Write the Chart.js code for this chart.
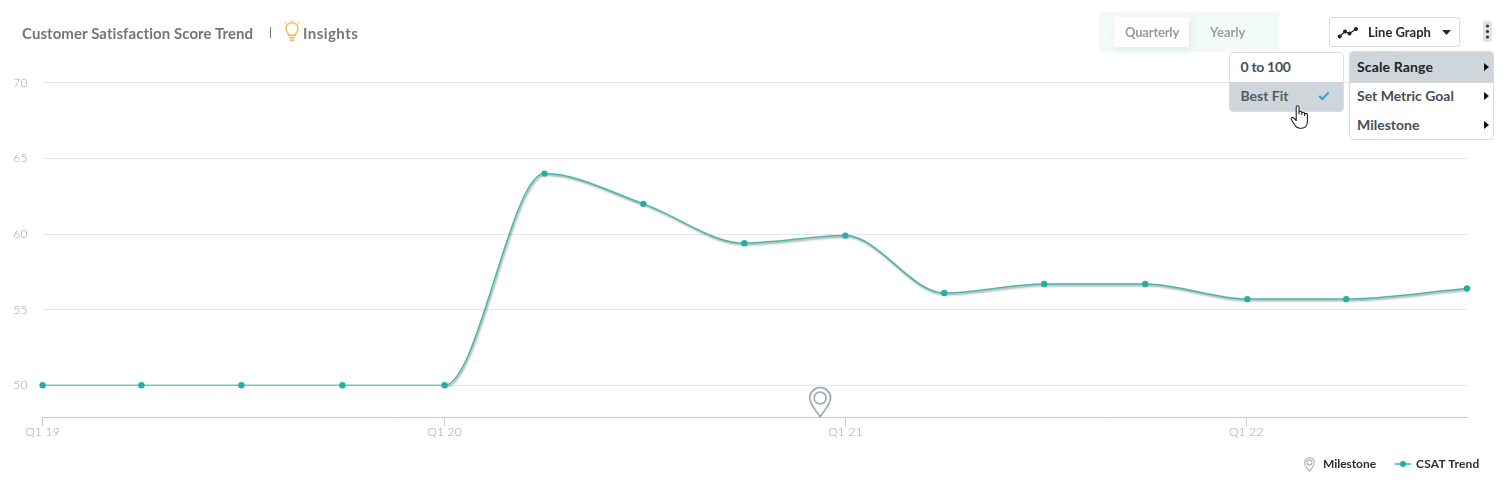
<!DOCTYPE html>
<html><head><meta charset="utf-8">
<script src="https://cdn.jsdelivr.net/npm/chart.js@4"></script>
<style>
html,body{margin:0;padding:0;background:#fff;width:1511px;height:491px;overflow:hidden;font-family:Lato,"Open Sans",sans-serif}
#wrap{position:absolute;left:0;top:0;width:1511px;height:491px}
canvas#c{position:absolute;left:0;top:0}
.t{position:absolute;white-space:nowrap;line-height:18px;font-weight:700}
.box{position:absolute;box-sizing:border-box}
svg{position:absolute;overflow:visible}
</style></head><body>
<div id="wrap">
<canvas id="c" width="1511" height="491"></canvas>
<div class="t" style="left:22px;top:24px;font-size:15px;letter-spacing:.07px;color:#72767c">Customer Satisfaction Score Trend</div>
<div class="box" style="left:270px;top:27px;width:1px;height:11px;background:#777"></div>
<svg style="left:283px;top:19px" width="18" height="24" viewBox="0 0 18 24" fill="none" stroke="#f8b658" stroke-width="1.4">
<path d="M5.6 16.2c0-2.2-2.6-3.2-2.6-6.6a6 6 0 0 1 12 0c0 3.4-2.6 4.4-2.6 6.6z"/><path d="M6.3 18.6h5.4M7 21.2h4" stroke-width="1.6"/>
<path d="M9 0.8v2M2.2 3l1.2 1.4M15.8 3l-1.2 1.4" stroke-width="1.1"/></svg>
<div class="t" style="left:303px;top:24px;font-size:15px;letter-spacing:.45px;color:#72767c">Insights</div>

<div class="box" style="left:1099px;top:12px;width:180px;height:40px;background:#f3fbf9"></div>
<div class="box" style="left:1114px;top:17px;width:75px;height:30px;background:#fff;border-radius:2px;box-shadow:2px 3px 8px rgba(150,200,190,.28)"></div>
<div class="t" style="left:1125px;top:23px;font-size:13px;letter-spacing:-.2px;color:#9a9a9a">Quarterly</div>
<div class="t" style="left:1210px;top:23px;font-size:13px;color:#9e9e9e">Yearly</div>

<div class="box" style="left:1329px;top:17px;width:131px;height:30px;border:1px solid #d9d9d9;border-radius:3px;background:#fff"></div>
<svg style="left:1338px;top:27px" width="20" height="12" viewBox="0 0 20 12" fill="#222" stroke="#222" stroke-width="1.2"><path d="M1.5 9.5L7 4.5L11.5 6.5L18 2" fill="none"/><circle cx="1.7" cy="9.5" r="1.4"/><circle cx="7" cy="4.5" r="1.4"/><circle cx="11.5" cy="6.5" r="1.4"/><circle cx="18" cy="2" r="1.4"/></svg>
<div class="t" style="left:1368px;top:23px;font-size:13px;color:#26292d">Line Graph</div>
<svg style="left:1442px;top:30px" width="9" height="5" viewBox="0 0 9 5"><path d="M0 0H9L4.5 5z" fill="#2a2a2a"/></svg>

<div class="box" style="left:1483px;top:21px;width:9px;height:21px;background:#e2e2e2;border-radius:3px"></div>
<svg style="left:1483px;top:21px" width="9" height="21" viewBox="0 0 9 21" fill="#333"><circle cx="4.5" cy="5" r="1.6"/><circle cx="4.5" cy="10.5" r="1.6"/><circle cx="4.5" cy="16" r="1.6"/></svg>

<div class="box" style="left:1229px;top:52px;width:115px;height:60px;background:#fff;border:1px solid #dcdcdc;border-radius:4px;overflow:hidden">
<div class="box" style="left:0;top:29px;width:113px;height:30px;background:#cfd6db"></div></div>
<div class="t" style="left:1240.5px;top:58px;font-size:14px;letter-spacing:-.3px;color:#4a4e54">0 to 100</div>
<div class="t" style="left:1240.5px;top:87px;font-size:14px;color:#565a60">Best Fit</div>
<svg style="left:1318px;top:91px" width="12" height="10" viewBox="0 0 12 10"><path d="M1.2 5l3.2 3L10.6 1.4" fill="none" stroke="#1fa9e6" stroke-width="2"/></svg>

<div class="box" style="left:1349px;top:51px;width:145px;height:89px;background:#fff;border:1px solid #dcdcdc;border-radius:4px;overflow:hidden">
<div class="box" style="left:0;top:0;width:143px;height:31px;background:#cfd6db"></div></div>
<div class="t" style="left:1357px;top:57.5px;font-size:14px;letter-spacing:.15px;color:#1f2226">Scale Range</div>
<div class="t" style="left:1357px;top:87px;font-size:14px;color:#4a4e54">Set Metric Goal</div>
<div class="t" style="left:1357px;top:116px;font-size:14px;color:#4a4e54">Milestone</div>
<svg style="left:1484px;top:63px" width="6" height="8" viewBox="0 0 6 8"><path d="M0 0L5 4L0 8z" fill="#111"/></svg>
<svg style="left:1484px;top:92px" width="6" height="8" viewBox="0 0 6 8"><path d="M0 0L5 4L0 8z" fill="#111"/></svg>
<svg style="left:1484px;top:121px" width="6" height="8" viewBox="0 0 6 8"><path d="M0 0L5 4L0 8z" fill="#111"/></svg>

<svg style="left:1290px;top:105px" width="20" height="24" viewBox="0 0 20 24"><path d="M6.2 12.5V2.2a1.4 1.4 0 0 1 2.8 0V9V7.6a1.4 1.4 0 0 1 2.8 0V9.6V8.6a1.4 1.4 0 0 1 2.8 0V10.4V9.8a1.4 1.4 0 0 1 2.8 0V16.5c0 3.8-2.2 6.7-5.8 6.7H10c-2.6 0-3.8-1.2-5-3L1.3 14.5c-.8-1.5 1.1-2.7 2.2-1.6L6.2 15.5z" fill="#fff" stroke="#222" stroke-width="1.1" stroke-linejoin="round"/></svg>

<svg style="left:1304px;top:457px" width="11" height="15" viewBox="0 0 11 15" fill="none" stroke="#a9b2b6" stroke-width="1.1"><path d="M5.5 14.4C3.5 11.5.6 8.6.6 5.5a4.9 4.9 0 0 1 9.8 0c0 3.1-2.9 6-4.9 8.9z"/><circle cx="5.5" cy="5.4" r="2.5"/></svg>
<div class="t" style="left:1323px;top:455px;font-size:12px;letter-spacing:-.05px;color:#2a2e35">Milestone</div>
<div class="box" style="left:1395px;top:463px;width:16px;height:2px;background:#6cc5b8"></div>
<div class="box" style="left:1400px;top:461px;width:6px;height:6px;border-radius:50%;background:#26ada0"></div>
<div class="t" style="left:1416px;top:455px;font-size:12px;letter-spacing:.2px;color:#2a2e35">CSAT Trend</div>
</div>
<script>
// Days since the start of Q1 19
const pointDays = [0,90,181,273,366,457,547,639,731,821,912,1004,1097,1187,1297];
const csatValues = [50,50,50,50,50,64,62,59.4,59.9,56.1,56.7,56.7,55.7,55.7,56.4];
const flatDays = [0,90,181,273,366];
const flatValues = [50,50,50,50,50];
const xTickDays = [0,366,731,1096];
const xTickLabels = ['Q1 19','Q1 20','Q1 21','Q1 22'];
const yTickValues = [50,55,60,65,70];
const milestoneDays = [708];
const milestoneValues = [48.88];

const pin = document.createElement('canvas');
pin.width = 26; pin.height = 32;
(function(){
  const p = pin.getContext('2d');
  p.strokeStyle = '#7d919c'; p.lineWidth = 1.3;
  p.beginPath();
  p.moveTo(13,30.6);
  p.bezierCurveTo(9,24,2.6,18.5,2.6,11.8);
  p.arc(13,11.8,10.4,Math.PI,0);
  p.bezierCurveTo(23.4,18.5,17,24,13,30.6);
  p.closePath(); p.stroke();
  p.beginPath(); p.arc(13,11.8,6,0,Math.PI*2); p.stroke();
})();

const lineShadow = {
  id:'lineShadow',
  beforeDraw(chart){ chart.ctx.letterSpacing='0.2px'; },
  beforeDatasetDraw(chart,args){
    if(args.index===0){const c=chart.ctx;c.save();c.shadowColor='rgba(50,50,50,.5)';c.shadowBlur=2;c.shadowOffsetX=1;c.shadowOffsetY=1.5;}
  },
  afterDatasetDraw(chart,args){ if(args.index===0) chart.ctx.restore(); }
};
const toXY = (xs,ys)=>xs.map((x,i)=>({x,y:ys[i]}));

new Chart(document.getElementById('c'),{
  type:'line',
  data:{datasets:[
    {label:'CSAT Trend curve',data:toXY(pointDays,csatValues),borderColor:'#45b7aa',borderWidth:1.5,cubicInterpolationMode:'monotone',pointRadius:0,order:3,
      segment:{borderColor:ctx=>ctx.p1DataIndex<=4?'transparent':undefined}},
    {label:'CSAT Trend flat',data:toXY(flatDays,flatValues),borderColor:'#6cc9bc',borderWidth:1.5,pointRadius:0,order:2},
    {label:'CSAT Trend',data:toXY(pointDays,csatValues),showLine:false,pointRadius:3.2,pointBackgroundColor:'#27aea2',pointBorderWidth:0,clip:false,order:1},
    {label:'Milestone',data:toXY(milestoneDays,milestoneValues),showLine:false,pointStyle:pin,pointRadius:13,clip:false,order:0}
  ]},
  plugins:[lineShadow],
  options:{
    responsive:false,animation:false,events:[],
    layout:{padding:{top:82.9,right:44,left:0,bottom:0}},
    plugins:{legend:{display:false},tooltip:{enabled:false}},
    scales:{
      x:{type:'linear',min:0,max:1297,
        afterBuildTicks(a){a.ticks=xTickDays.map(v=>({value:v}));},
        afterFit(a){a.height=74;},
        border:{display:true,color:'#c9cbd0',width:1},
        grid:{drawOnChartArea:false,drawTicks:true,tickLength:9,color:'#c3cbdb'},
        ticks:{autoSkip:false,maxRotation:0,padding:-1,color:'#a2a3ab',font:{family:'Lato',size:12,weight:'300'},
          callback:v=>xTickLabels[xTickDays.indexOf(v)]}
      },
      y:{min:47.9,max:70,
        afterBuildTicks(a){a.ticks=yTickValues.map(v=>({value:v}));},
        afterFit(a){a.width=42.6;},
        border:{display:false},
        grid:{color:'#e6e6e6',lineWidth:1,drawTicks:false},
        ticks:{padding:15,color:'#a2a3ab',font:{family:'Lato',size:12,weight:'300'}}
      }
    }
  }
});
</script>
</body></html>
